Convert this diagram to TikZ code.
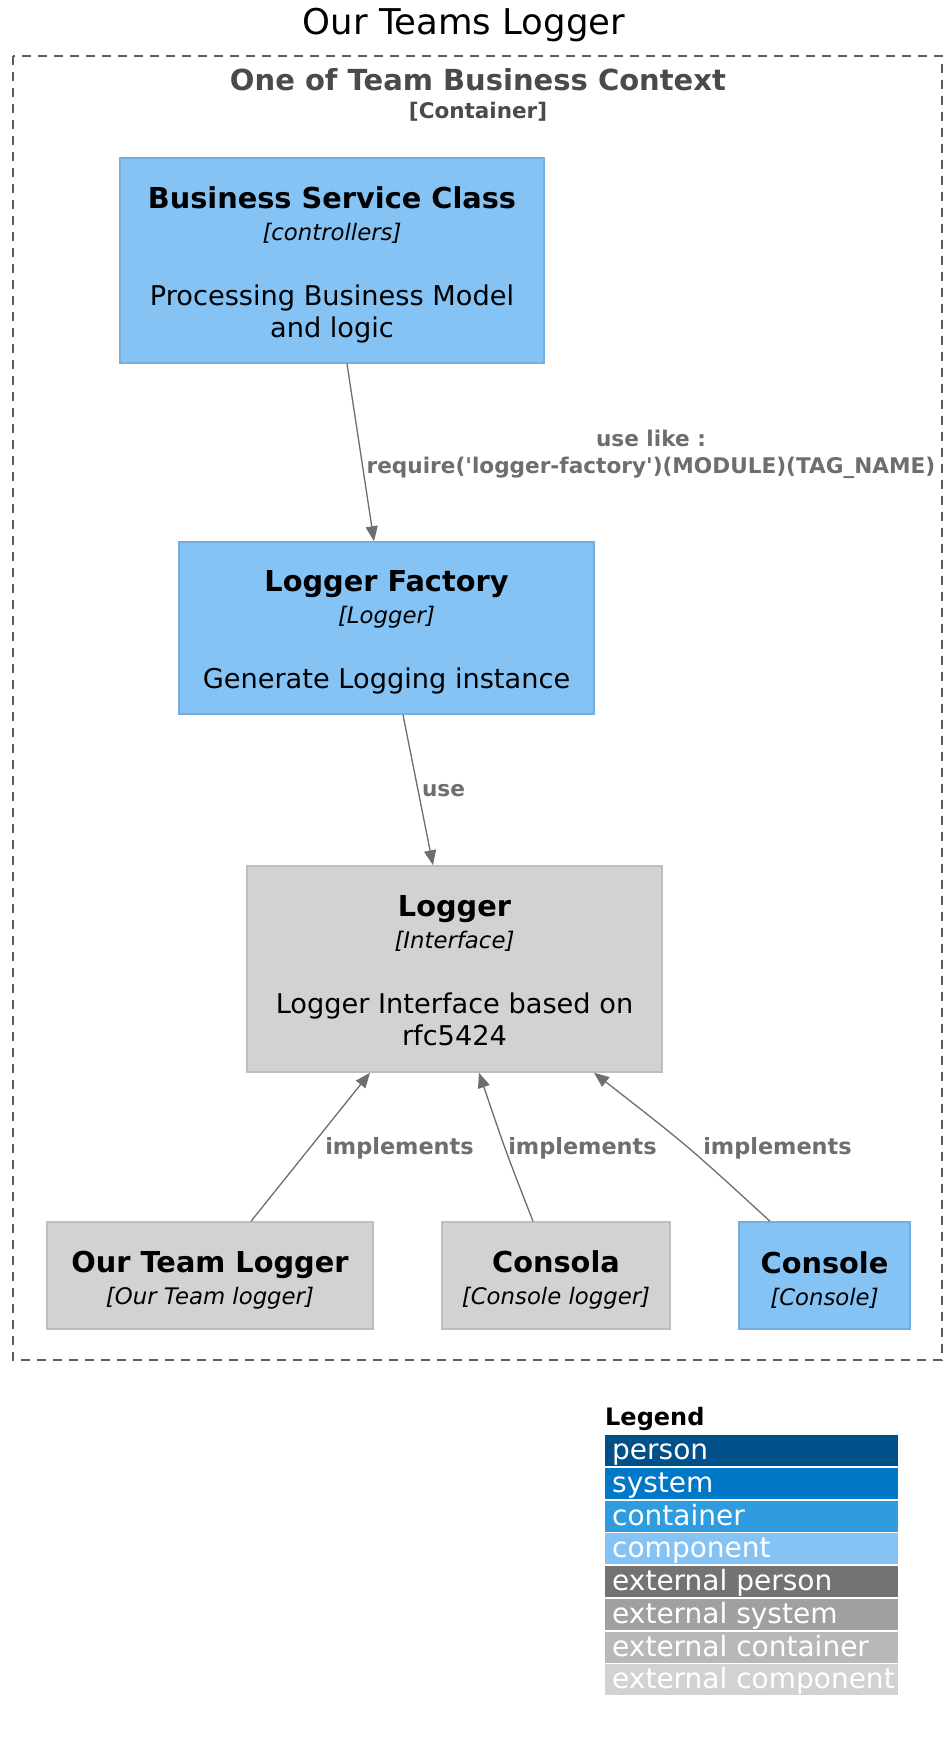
\documentclass[tikz,border=0pt]{standalone}
\usepackage{fontspec}
\setmainfont{DejaVu Sans}
\usetikzlibrary{arrows.meta}
\definecolor{compfill}{HTML}{85C3F4}
\definecolor{compline}{HTML}{75AEDC}
\definecolor{extfill}{HTML}{D2D2D2}
\definecolor{extline}{HTML}{BEBEBE}
\definecolor{relcol}{HTML}{6E6E6E}
\definecolor{ctxcol}{HTML}{4A4A4A}
\definecolor{lgperson}{HTML}{02508A}
\definecolor{lgsystem}{HTML}{0078C8}
\definecolor{lgcontainer}{HTML}{2E9CDF}
\definecolor{lgcomponent}{HTML}{85C3F4}
\definecolor{lgextperson}{HTML}{737373}
\definecolor{lgextsystem}{HTML}{A0A0A0}
\definecolor{lgextcontainer}{HTML}{B8B8B8}
\definecolor{lgextcomponent}{HTML}{D2D2D2}
\newcommand\boxttl[2][30pt]{{\fontsize{28.8}{32}\selectfont\bfseries\rule{0pt}{#1}#2}}
\newcommand\boxst[1]{{\fontsize{22.8}{32}\selectfont\itshape #1}}
\newcommand\sq{\XeTeXglyph\XeTeXcharglyph"0027\relax}
\newcommand\lgtext[1]{\makebox[279pt][l]{#1}}
\begin{document}
\begin{tikzpicture}[x=1pt,y=-1pt,
  elem/.style={draw, line width=1.5pt, rectangle, inner sep=0pt, align=center,
    font=\fontsize{27.2}{32}\selectfont, text=black},
  comp/.style={elem, fill=compfill, draw=compline},
  extcomp/.style={elem, fill=extfill, draw=extline},
  rel/.style={draw=relcol, line width=1.3pt, -{Triangle[length=15pt,width=12pt]}, color=relcol},
  rellabel/.style={text=relcol, font=\fontsize{21.6}{27}\selectfont\bfseries, inner sep=0pt, align=center},
  legrow/.style={anchor=north west, minimum height=31pt, minimum width=293pt, inner xsep=7pt,
    inner ysep=0pt, text height=22pt, text depth=4pt, text=white, font=\fontsize{28}{30}\selectfont}
]
\useasboundingbox (0,0) rectangle (952,1741);
\fill[white] (0,0) rectangle (952,1741);

\node[font=\fontsize{35.5}{40}\selectfont, inner sep=0pt] (title) at (464,25) {Our Teams Logger};

\draw[dash pattern=on 9pt off 7pt, draw=ctxcol!90, line width=1.4pt] (13,56) rectangle (942,1360);
\node[font=\fontsize{29}{34}\selectfont\bfseries, text=ctxcol, inner sep=0pt] (ctx) at (478,80) {One of Team Business Context};
\node[font=\fontsize{21.5}{26}\selectfont\bfseries, text=ctxcol, inner sep=0pt] (ctxtype) at (478,112) {[Container]};

\node[comp, minimum width=424pt, minimum height=205pt] (bsc) at (332,260.5)
  {\boxttl{Business Service Class}\\ \boxst{[controllers]}\\[33pt] Processing Business Model\\ and logic};
\node[comp, minimum width=415pt, minimum height=172pt] (lf) at (386.5,628)
  {\boxttl{Logger Factory}\\ \boxst{[Logger]}\\[33pt] Generate Logging instance};
\node[extcomp, minimum width=415pt, minimum height=206pt] (logger) at (454.5,969)
  {\boxttl[25pt]{Logger}\\ \boxst{[Interface]}\\[33pt] Logger Interface based on\\ rfc5424};
\node[extcomp, minimum width=326pt, minimum height=107pt] (otl) at (210,1275.5)
  {\boxttl{Our Team Logger}\\ \boxst{[Our Team logger]}};
\node[extcomp, minimum width=228pt, minimum height=107pt] (consola) at (556,1275.5)
  {\boxttl{Consola}\\ \boxst{[Console logger]}};
\node[comp, minimum width=171pt, minimum height=107pt] (console) at (824.5,1275.5)
  {\boxttl{Console}\\ \boxst{[Console]}};

\draw[rel] ([xshift=15pt]bsc.south) -- ([xshift=-12.5pt]lf.north);
\node[rellabel] (l1) at (651,454) {use like :\\require(\sq logger-factory\sq)(MODULE)(TAG\_NAME)};

\draw[rel] ([xshift=16.5pt]lf.south) -- ([xshift=-21.5pt]logger.north);
\node[rellabel] (l2) at (443.5,791) {use};

\draw[rel] ([xshift=41pt]otl.north) -- ([xshift=-84.5pt]logger.south);
\node[rellabel, font=\fontsize{22.4}{27}\selectfont\bfseries] (l3) at (399.5,1148) {implements};

\draw[rel] ([xshift=-23pt]consola.north) .. controls (506,1152) .. ([xshift=24.5pt]logger.south);
\node[rellabel, font=\fontsize{22.4}{27}\selectfont\bfseries] (l4) at (582.5,1148) {implements};

\draw[rel] ([xshift=-54.5pt]console.north) .. controls (688,1146) .. ([xshift=139.5pt]logger.south);
\node[rellabel, font=\fontsize{22.4}{27}\selectfont\bfseries] (l5) at (777.5,1148) {implements};

\node[font=\fontsize{24}{28}\selectfont\bfseries, anchor=west, inner sep=0pt] (legend) at (605,1419) {Legend};
\node[legrow, fill=lgperson] (lg1) at (605,1435) {\lgtext{person}};
\node[legrow, fill=lgsystem] (lg2) at (605,1467.75) {\lgtext{system}};
\node[legrow, fill=lgcontainer] (lg3) at (605,1500.5) {\lgtext{container}};
\node[legrow, fill=lgcomponent] (lg4) at (605,1533.25) {\lgtext{component}};
\node[legrow, fill=lgextperson] (lg5) at (605,1566) {\lgtext{external person}};
\node[legrow, fill=lgextsystem] (lg6) at (605,1598.75) {\lgtext{external system}};
\node[legrow, fill=lgextcontainer] (lg7) at (605,1631.5) {\lgtext{external container}};
\node[legrow, fill=lgextcomponent] (lg8) at (605,1664.25) {\lgtext{external component}};
\end{tikzpicture}
\end{document}
